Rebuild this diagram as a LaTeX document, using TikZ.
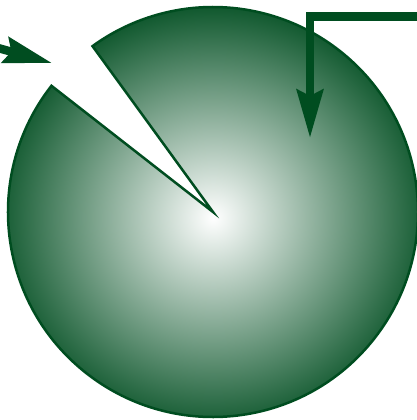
\documentclass[tikz,border=0pt]{standalone}
\usetikzlibrary{arrows.meta}
\definecolor{dkgreen}{RGB}{0,77,32}
\pgfdeclareradialshading{pacshade}{\pgfpoint{0bp}{0bp}}{color(0bp)=(white); color(25bp)=(dkgreen); color(50bp)=(dkgreen)}
\tikzset{
  pacman/.style={shading=pacshade, draw=dkgreen, line width=2.5pt, line join=miter},
  bigarrow/.style={draw=dkgreen, line width=8.5pt, line join=miter,
    -{Stealth[length=48pt, width=26pt, inset=6pt]}}
}
\begin{document}
\begin{tikzpicture}[x=1pt,y=1pt]
  \useasboundingbox (0,0) rectangle (417,420);
  \coordinate (c) at (213,208);
  \coordinate (ltail) at (-20,377);
  \coordinate (ltip) at (52,357);
  \coordinate (rtail) at (440,403.5);
  \coordinate (rcorner) at (310,403.5);
  \coordinate (rtip) at (310,282);
  \shadedraw[pacman] (c) -- ++(142:205) arc[start angle=142, end angle=486, radius=205] -- cycle;
  \draw[bigarrow] (ltail) -- (ltip);
  \draw[bigarrow] (rtail) -- (rcorner) -- (rtip);
\end{tikzpicture}
\end{document}
